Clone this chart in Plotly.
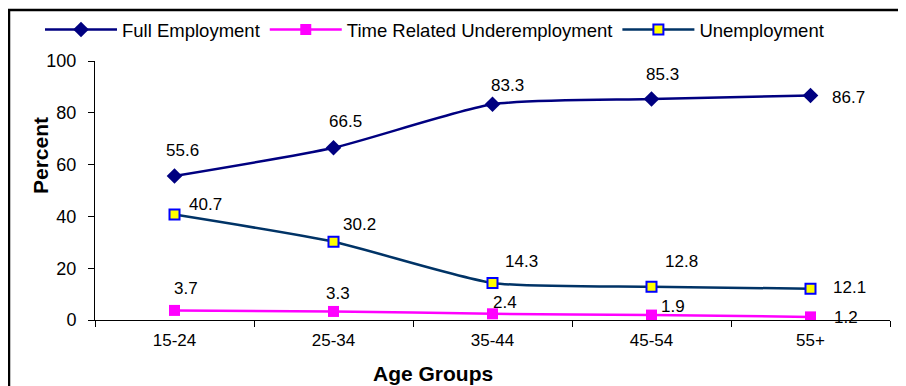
import plotly.graph_objects as go

categories = ["15-24", "25-34", "35-44", "45-54", "55+"]
full_employment = [55.6, 66.5, 83.3, 85.3, 86.7]
time_related = [3.7, 3.3, 2.4, 1.9, 1.2]
unemployment = [40.7, 30.2, 14.3, 12.8, 12.1]
x_title = "Age Groups"
y_title = "Percent"

# label offsets in px (style only)
fe_offsets = [(8, 26), (12, 26), (15, 19), (11, 25), (38, -2)]
un_offsets = [(31, 10), (26, 17), (29, 21), (30, 25), (39, 1)]
tr_offsets = [(11, 22), (4, 18), (12, 11), (21, 9), (35, -1)]

W, H = 906, 386
OFF = 8  # page body margin
ML, MT = 95 - OFF, 61 - OFF
MR = W - (890 - OFF)
MB = H - (320 - OFF)
PW = W - ML - MR
PH = H - MT - MB

FONT = "Liberation Sans, Arial, sans-serif"

fig = go.Figure()
fig.add_trace(go.Scatter(
    x=categories, y=full_employment, name="Full Employment",
    mode="lines+markers", line=dict(color="#000080", width=2.5, shape="spline", smoothing=0.6),
    marker=dict(symbol="diamond", size=12, color="#000080")))
fig.add_trace(go.Scatter(
    x=categories, y=time_related, name="Time Related Underemployment",
    mode="lines+markers", line=dict(color="#FF00FF", width=2.5, shape="spline", smoothing=0.6),
    marker=dict(symbol="square", size=11, color="#FF00FF")))
fig.add_trace(go.Scatter(
    x=categories, y=unemployment, name="Unemployment",
    mode="lines+markers", line=dict(color="#003366", width=2.5, shape="spline", smoothing=0.6),
    marker=dict(symbol="square", size=10, color="#FFFF00", line=dict(color="#0000FF", width=2))))

annotations = []
def labels(values, offsets):
    for c, v, (xs, ys) in zip(categories, values, offsets):
        annotations.append(dict(x=c, y=v, text=f"{v}", showarrow=False, xshift=xs, yshift=ys,
                                xanchor="center", yanchor="middle",
                                font=dict(family=FONT, size=17, color="#000000")))

labels(full_employment, fe_offsets)
labels(unemployment, un_offsets)
labels(time_related, tr_offsets)

def px_x(p):
    return (p - OFF - ML) / PW
def px_y(p):
    return (MT + PH - (p - OFF)) / PH

annotations.append(dict(xref="paper", yref="paper", x=px_x(433), y=px_y(373), text=f"<b>{x_title}</b>",
                        xanchor="center", yanchor="middle",
                        showarrow=False, font=dict(family=FONT, size=21, color="#000000")))
annotations.append(dict(xref="paper", yref="paper", x=px_x(40), y=px_y(156), text=f"<b>{y_title}</b>",
                        xanchor="center", yanchor="middle",
                        textangle=-90, showarrow=False, font=dict(family=FONT, size=21, color="#000000")))

fig.update_layout(
    width=W, height=H,
    margin=dict(l=ML, r=MR, t=MT, b=MB, autoexpand=False),
    paper_bgcolor="white", plot_bgcolor="white",
    font=dict(family=FONT, size=17, color="#000000"),
    annotations=annotations,
    showlegend=True,
    legend=dict(orientation="h", xref="container", yref="container",
                x=(40 - OFF) / W, y=1 - (30 - OFF) / H, xanchor="left", yanchor="middle",
                font=dict(family=FONT, size=18.5, color="#000000"),
                itemwidth=72, tracegroupgap=0, bgcolor="rgba(0,0,0,0)"),
    shapes=[dict(type="rect", xref="paper", yref="paper",
                 x0=px_x(9), x1=px_x(W + 30), y0=px_y(H + 30), y1=px_y(10),
                 line=dict(color="black", width=2.5), fillcolor="rgba(0,0,0,0)", layer="above")],
    xaxis=dict(
        automargin=False, range=[-0.5, len(categories) - 0.5],
        showline=True, linecolor="black", linewidth=1, mirror=False,
        ticks="outside", ticklen=6, tickcolor="black", tickson="boundaries",
        ticklabelstandoff=5,
        showgrid=False, zeroline=False, tickfont=dict(size=17)),
    yaxis=dict(
        automargin=False,
        range=[0, 100], dtick=20,
        showline=True, linecolor="black", linewidth=1,
        ticks="outside", ticklen=6, tickcolor="black",
        ticklabelstandoff=8,
        showgrid=False, zeroline=False, tickfont=dict(size=18)),
)

fig.write_html("out.html")
